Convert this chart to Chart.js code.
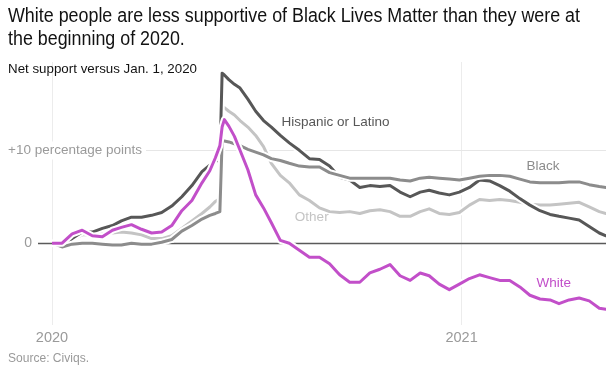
<!DOCTYPE html>
<html>
<head>
<meta charset="utf-8">
<script src="https://cdn.jsdelivr.net/npm/chart.js@4.4.1/dist/chart.umd.min.js"></script>
<style>
  html, body { margin: 0; padding: 0; background: #fff; }
  canvas { display: block; }
</style>
</head>
<body>
<canvas id="chart" width="614" height="373"></canvas>
<script>
// days since Jan. 1, 2020
const days = [0, 9, 18, 27, 36, 45, 54, 62, 71, 80,
  89, 98, 107, 116, 125, 134, 141, 146, 150, 152,
  154, 158, 163, 168, 175, 182, 189, 196, 204, 212,
  221, 230, 239, 248, 257, 266, 275, 284, 293, 302,
  311, 320, 329, 337, 346, 355, 364, 373, 382, 391,
  400, 409, 418, 427, 436, 445, 453, 462, 471, 480,
  489, 495];

// net support versus Jan. 1, 2020 (percentage points)
const hispanic = [0, -0.3, 0.5, 1.2, 1.2, 1.6, 1.9, 2.4, 2.8, 2.8,
  3.0, 3.3, 4.0, 5.0, 6.2, 7.7, 8.4, 8.8, 9.0, 18.3,
  18.1, 17.6, 17.1, 16.7, 15.5, 14.2, 13.2, 12.5, 11.6, 10.8,
  10.0, 9.1, 9.0, 8.3, 7.1, 6.8, 6.0, 6.2, 6.1, 6.2,
  5.5, 5.0, 5.5, 5.7, 5.4, 5.2, 5.5, 6.0, 6.8, 6.7,
  6.2, 5.6, 4.8, 4.1, 3.5, 3.1, 2.9, 2.7, 2.5, 1.8,
  1.1, 0.8];
const black = [0, -0.4, -0.1, 0, 0, -0.1, -0.2, -0.2, 0, -0.1,
  -0.1, 0.1, 0.4, 1.3, 1.9, 2.6, 3.0, 3.2, 3.4, 11.0,
  11.0, 10.9, 10.7, 10.5, 10.1, 9.8, 9.5, 9.1, 8.9, 8.6,
  8.3, 8.2, 8.2, 7.6, 7.3, 7.0, 7.0, 7.0, 7.0, 7.0,
  6.8, 6.7, 7.0, 7.1, 7.0, 6.9, 6.8, 7.0, 7.2, 7.3,
  7.3, 7.2, 6.9, 6.6, 6.5, 6.5, 6.5, 6.6, 6.6, 6.3,
  6.1, 6.0];
const other = [0, -0.2, 0.4, 0.9, 0.9, 1.0, 1.1, 1.2, 1.1, 0.9,
  0.5, 0.5, 0.8, 1.6, 2.4, 3.2, 3.9, 4.5, 4.8, 14.7,
  14.6, 14.2, 13.8, 13.2, 12.5, 11.6, 10.4, 8.6, 7.3, 6.5,
  5.2, 4.6, 3.8, 3.4, 3.3, 3.4, 3.2, 3.5, 3.6, 3.4,
  2.9, 2.9, 3.4, 3.7, 3.2, 3.1, 3.3, 4.1, 4.7, 4.6,
  4.7, 4.6, 4.4, 4.2, 4.1, 4.1, 4.2, 4.3, 4.4, 3.9,
  3.4, 3.2];
const white = [0, 0, 1.0, 1.4, 0.8, 0.7, 1.4, 1.7, 2.0, 1.5,
  1.1, 1.2, 1.9, 3.5, 4.6, 6.5, 7.8, 9.2, 10.5, 12.5,
  13.3, 12.6, 11.5, 10.0, 7.9, 5.2, 3.8, 2.2, 0.3, 0,
  -0.75, -1.5, -1.5, -2.2, -3.4, -4.2, -4.2, -3.2, -2.8, -2.3,
  -3.5, -4.0, -3.2, -3.5, -4.4, -5.0, -4.4, -3.8, -3.4, -3.7,
  -4.0, -4.0, -4.7, -5.6, -6.0, -6.1, -6.5, -6.1, -5.9, -6.2,
  -7.0, -7.1];

const xTickValues = [0, 366];
const xTickLabels = ['2020', '2021'];
const yTickValues = [0, 10];
const yTickLabels = ['0', '+10 percentage points'];

// name, values, colour, where the label sits (day, value)
const series = [
  { name: 'Other', values: other, color: '#c4c4c4', label: [217, 2.8] },
  { name: 'Hispanic or Latino', values: hispanic, color: '#575757', label: [205, 13.0] },
  { name: 'Black', values: black, color: '#8c8c8c', label: [424, 8.3] },
  { name: 'White', values: white, color: '#c24fc9', label: [433, -4.3] }
];

const FONT = '"Liberation Sans", Arial, sans-serif';

// draw text squeezed horizontally (the original headline font is condensed)
function squeezed(ctx, text, x, y, k) {
  ctx.save();
  ctx.translate(x, y);
  ctx.scale(k, 1);
  ctx.fillText(text, 0, 0);
  ctx.restore();
}
function fitText(ctx, text, x, y, w) {
  const k = w / ctx.measureText(text).width;
  squeezed(ctx, text, x, y, k);
  return k;
}

const datasets = [];
series.forEach((s, i) => {
  const pts = days.map((d, j) => ({ x: d, y: s.values[j] }));
  const n = series.length - i;
  // white halo under each line
  datasets.push({ label: s.name + ' halo', data: pts, borderColor: '#fff', borderWidth: 7, order: n * 2 });
  datasets.push({ label: s.name, data: pts, borderColor: s.color, borderWidth: 3, order: n * 2 - 1 });
});

const decor = {
  id: 'decor',
  beforeDatasetsDraw(chart) {
    const { ctx, chartArea, scales: { y } } = chart;
    ctx.save();
    // +10 gridline
    const y10 = Math.round(y.getPixelForValue(yTickValues[1])) + 0.5;
    ctx.strokeStyle = '#e6e6e6';
    ctx.lineWidth = 1;
    ctx.beginPath();
    ctx.moveTo(146, y10);
    ctx.lineTo(chartArea.right, y10);
    ctx.stroke();
    // label sits over the vertical gridline
    ctx.font = '13.5px ' + FONT;
    ctx.textBaseline = 'middle';
    ctx.fillStyle = '#fff';
    ctx.fillRect(6, y10 - 9, 138, 18);
    ctx.fillStyle = '#9a9a9a';
    ctx.textAlign = 'left';
    fitText(ctx, yTickLabels[1], 8, y10, 134);
    // zero line
    const y0 = Math.round(y.getPixelForValue(yTickValues[0])) + 0.5;
    ctx.strokeStyle = '#5a5a5a';
    ctx.lineWidth = 1.5;
    ctx.beginPath();
    ctx.moveTo(38, y0);
    ctx.lineTo(chartArea.right, y0);
    ctx.stroke();
    ctx.font = '14px ' + FONT;
    ctx.textAlign = 'right';
    ctx.fillText(yTickLabels[0], 32, y0);
    ctx.restore();
  },
  afterDatasetsDraw(chart) {
    const { ctx, scales: { x, y } } = chart;
    ctx.save();
    ctx.font = '13.5px ' + FONT;
    ctx.textBaseline = 'middle';
    ctx.textAlign = 'left';
    series.forEach(s => {
      ctx.fillStyle = s.color;
      ctx.fillText(s.name, x.getPixelForValue(s.label[0]), y.getPixelForValue(s.label[1]));
    });
    ctx.restore();
  },
  afterDraw(chart) {
    const { ctx } = chart;
    ctx.save();
    ctx.textAlign = 'left';
    ctx.textBaseline = 'alphabetic';
    ctx.fillStyle = '#121212';
    ctx.font = '19.5px ' + FONT;
    const k = fitText(ctx, 'White people are less supportive of Black Lives Matter than they were at', 8, 22, 572);
    squeezed(ctx, 'the beginning of 2020.', 8, 45, k);
    ctx.font = '13px ' + FONT;
    fitText(ctx, 'Net support versus Jan. 1, 2020', 8, 73, 189);
    ctx.fillStyle = '#9a9a9a';
    ctx.font = '13px ' + FONT;
    fitText(ctx, 'Source: Civiqs.', 8, 362, 81);
    ctx.restore();
  }
};

new Chart(document.getElementById('chart'), {
  type: 'line',
  data: { datasets },
  options: {
    responsive: false,
    animation: false,
    events: [],
    layout: { padding: { left: 52, right: 8, top: 62, bottom: 0 } },
    elements: {
      point: { radius: 0 },
      line: { tension: 0, borderJoinStyle: 'round', borderCapStyle: 'round', fill: false }
    },
    plugins: { legend: { display: false }, tooltip: { enabled: false } },
    scales: {
      x: {
        type: 'linear',
        min: 0,
        max: 495,
        afterBuildTicks: scale => { scale.ticks = xTickValues.map(v => ({ value: v })); },
        afterFit: scale => { scale.height = 48; },
        ticks: {
          padding: 4,
          color: '#9a9a9a',
          font: { family: FONT, size: 14.5 },
          maxRotation: 0,
          callback: v => xTickLabels[xTickValues.indexOf(v)]
        },
        grid: { color: '#ececec', drawTicks: false },
        border: { display: false }
      },
      y: { display: false, min: -8.8, max: 19.5 }
    }
  },
  plugins: [decor]
});
</script>
</body>
</html>
